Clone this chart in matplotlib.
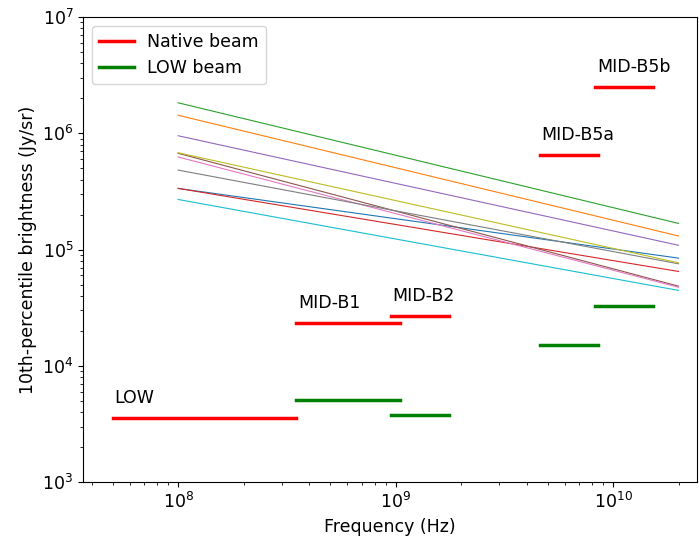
import numpy as np
import matplotlib
matplotlib.use("Agg")
import matplotlib.pyplot as plt

# brightness curves (start at 100 MHz, end at 20 GHz), one per colour C0..C9
curve_freq = [1e8, 2e10]
curve_vals = [
    [3.36e5, 8.45e4],   # C0 blue
    [1.43e6, 1.31e5],   # C1 orange
    [1.83e6, 1.68e5],   # C2 green
    [3.36e5, 6.49e4],   # C3 red
    [9.53e5, 1.09e5],   # C4 purple
    [6.73e5, 4.85e4],   # C5 brown
    [6.26e5, 4.75e4],   # C6 pink
    [4.83e5, 7.55e4],   # C7 gray
    [6.81e5, 7.70e4],   # C8 olive
    [2.70e5, 4.46e4],   # C9 cyan
]

# bands: name, f_min, f_max, native beam, LOW beam
band_names = ["LOW", "MID-B1", "MID-B2", "MID-B5a", "MID-B5b"]
band_fmin = [5.0e7, 3.5e8, 0.95e9, 4.6e9, 8.3e9]
band_fmax = [3.5e8, 1.05e9, 1.76e9, 8.5e9, 15.3e9]
native_beam = [3.55e3, 2.33e4, 2.68e4, 6.5e5, 2.5e6]
low_beam = [None, 5.07e3, 3.8e3, 1.5e4, 3.27e4]

plt.rcParams['font.size'] = 12.5

fig = plt.figure(figsize=(6.99, 5.4), dpi=100)
ax = fig.add_axes([0.119, 0.107, 0.878, 0.8615])

for i, v in enumerate(curve_vals):
    ax.plot(curve_freq, v, color="C%d" % i, lw=0.8)

for i in range(len(band_names)):
    ax.plot([band_fmin[i], band_fmax[i]], [native_beam[i]] * 2, color="r", lw=2.5)
    if low_beam[i] is not None:
        ax.plot([band_fmin[i], band_fmax[i]], [low_beam[i]] * 2, color="g", lw=2.5)
    ax.text(band_fmin[i] * 1.02, native_beam[i] * 1.25, band_names[i], va="bottom", ha="left")

ax.plot([], [], color="r", lw=2.5, label="Native beam")
ax.plot([], [], color="g", lw=2.5, label="LOW beam")
ax.legend(loc="upper left")

ax.set_xscale("log")
ax.set_yscale("log")
ax.set_xlim(3.66e7, 2.43e10)
ax.set_ylim(1e3, 1e7)
ax.set_xlabel("Frequency (Hz)")
ax.set_ylabel("10th-percentile brightness (Jy/sr)")

fig.savefig("out.png")
